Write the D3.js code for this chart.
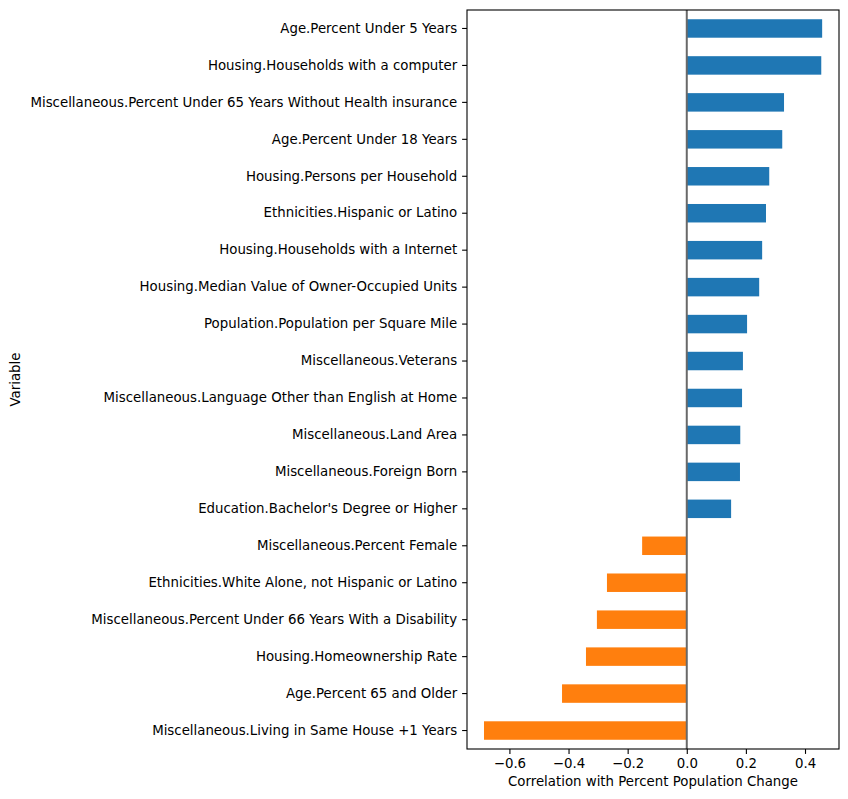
<!DOCTYPE html>
<html>
<head>
<meta charset="utf-8">
<script src="https://cdn.jsdelivr.net/npm/d3@7"></script>
<style>
body { margin: 0; background: #fff; }
svg { display: block; }
text { font-family: "DejaVu Sans", sans-serif; fill: #000; }
</style>
</head>
<body>
<script>
const categories = [
  "Age.Percent Under 5 Years",
  "Housing.Households with a computer",
  "Miscellaneous.Percent Under 65 Years Without Health insurance",
  "Age.Percent Under 18 Years",
  "Housing.Persons per Household",
  "Ethnicities.Hispanic or Latino",
  "Housing.Households with a Internet",
  "Housing.Median Value of Owner-Occupied Units",
  "Population.Population per Square Mile",
  "Miscellaneous.Veterans",
  "Miscellaneous.Language Other than English at Home",
  "Miscellaneous.Land Area",
  "Miscellaneous.Foreign Born",
  "Education.Bachelor's Degree or Higher",
  "Miscellaneous.Percent Female",
  "Ethnicities.White Alone, not Hispanic or Latino",
  "Miscellaneous.Percent Under 66 Years With a Disability",
  "Housing.Homeownership Rate",
  "Age.Percent 65 and Older",
  "Miscellaneous.Living in Same House +1 Years"
];
const values = [
  0.458, 0.455, 0.329, 0.323, 0.279, 0.268, 0.255, 0.245, 0.204, 0.190,
  0.187, 0.181, 0.180, 0.150, -0.151, -0.270, -0.304, -0.341, -0.422, -0.686
];
const xTicks = [-0.6, -0.4, -0.2, 0.0, 0.2, 0.4];
const xDomain = [-0.7435, 0.515];
const xLabel = "Correlation with Percent Population Change";
const yLabel = "Variable";

const W = 848, H = 799;
const m = { left: 467, right: 839, top: 10, bottom: 749 };
const fs = 13.33;

const svg = d3.select("body").append("svg").attr("width", W).attr("height", H);

const x = d3.scaleLinear().domain(xDomain).range([m.left, m.right]);
const y = d3.scaleBand().domain(categories).range([m.top, m.bottom]).paddingInner(0.5).paddingOuter(0.25);

// bars
svg.append("g").selectAll("rect").data(values).join("rect")
  .attr("x", d => x(Math.min(0, d)))
  .attr("width", d => Math.abs(x(d) - x(0)))
  .attr("y", (d, i) => y(categories[i]))
  .attr("height", y.bandwidth())
  .attr("fill", d => d >= 0 ? "#1f77b4" : "#ff7f0e");

// zero line
svg.append("line")
  .attr("x1", x(0)).attr("x2", x(0))
  .attr("y1", m.top).attr("y2", m.bottom)
  .attr("stroke", "#696969").attr("stroke-width", 2);

// x axis
const xAxis = d3.axisBottom(x).tickValues(xTicks).tickSize(4.9).tickPadding(4.9)
  .tickFormat(d => d3.format(".1f")(d).replace("-", "\u2212"));
const gx = svg.append("g").attr("transform", `translate(0,${m.bottom})`).call(xAxis);
gx.select(".domain").remove();
gx.selectAll("line").attr("stroke", "#000").attr("stroke-width", 1.1);
gx.selectAll("text").attr("font-size", fs).attr("font-family", "DejaVu Sans").attr("fill", "#000");

// y axis
const yAxis = d3.axisLeft(y).tickSize(4.9).tickPadding(4.9);
const gy = svg.append("g").attr("transform", `translate(${m.left},0)`).call(yAxis);
gy.select(".domain").remove();
gy.selectAll("line").attr("stroke", "#000").attr("stroke-width", 1.1);
gy.selectAll("text").attr("font-size", fs).attr("font-family", "DejaVu Sans").attr("fill", "#000");

// frame
svg.append("rect")
  .attr("x", m.left).attr("y", m.top)
  .attr("width", m.right - m.left).attr("height", m.bottom - m.top)
  .attr("fill", "none").attr("stroke", "#000").attr("stroke-width", 1.1);

// labels
svg.append("text")
  .attr("x", (m.left + m.right) / 2).attr("y", 786)
  .attr("text-anchor", "middle").attr("font-size", fs)
  .text(xLabel);

svg.append("text")
  .attr("transform", `translate(20,${(m.top + m.bottom) / 2}) rotate(-90)`)
  .attr("text-anchor", "middle").attr("font-size", fs)
  .text(yLabel);
</script>
</body>
</html>
